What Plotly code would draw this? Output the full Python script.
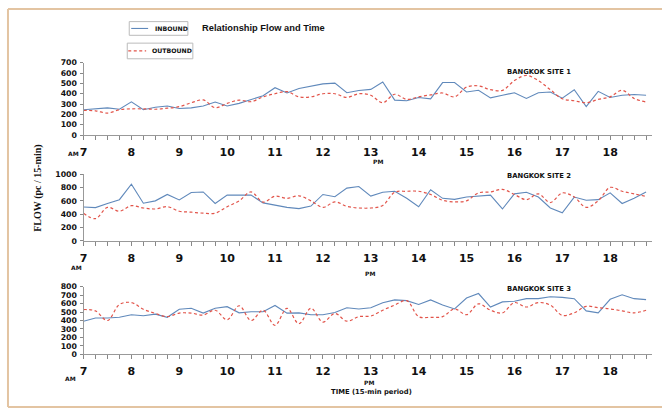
import plotly.graph_objects as go

W, H = 662, 417

# 15-min periods, 7:00 to 18:45
times = [7 + 0.25 * i for i in range(48)]
hour_ticks = list(range(7, 19))
hour_labels = [str(h) for h in hour_ticks]

site1_in = [245, 254, 263, 250, 322, 245, 270, 282, 257, 263, 282, 320,
            282, 307, 345, 380, 458, 407, 450, 470, 495, 503, 410, 432,
            442, 514, 338, 332, 364, 351, 508, 508, 417, 433, 360, 385,
            410, 354, 410, 417, 357, 439, 276, 423, 364, 385, 392, 385]
site1_out = [238, 235, 213, 245, 254, 254, 250, 260, 275, 313, 340, 265,
             307, 338, 323, 370, 400, 420, 370, 370, 400, 400, 364, 400,
             385, 313, 395, 345, 370, 389, 407, 370, 464, 476, 439, 433,
             527, 577, 527, 439, 351, 332, 313, 345, 370, 433, 354, 320]

site2_in = [507, 498, 560, 618, 850, 565, 600, 696, 614, 725, 734, 560,
            686, 686, 686, 570, 531, 502, 483, 522, 696, 662, 792, 816,
            671, 729, 744, 638, 512, 768, 638, 623, 657, 671, 686, 478,
            705, 729, 657, 493, 420, 657, 609, 618, 720, 560, 638, 734]
site2_out = [415, 333, 502, 444, 527, 493, 478, 512, 444, 430, 415, 415,
             512, 600, 734, 580, 671, 638, 676, 600, 502, 585, 517, 493,
             493, 531, 729, 744, 744, 696, 609, 585, 600, 720, 734, 773,
             696, 618, 705, 575, 720, 657, 502, 600, 802, 744, 705, 667]

site3_in = [392, 430, 430, 438, 469, 457, 476, 438, 533, 545, 488, 545,
            564, 491, 503, 503, 579, 488, 491, 469, 469, 495, 552, 537,
            552, 610, 644, 636, 590, 644, 583, 537, 667, 720, 560, 621,
            629, 659, 659, 682, 674, 659, 514, 491, 651, 705, 659, 648]
site3_out = [530, 514, 400, 590, 613, 533, 484, 446, 488, 488, 465, 522,
             408, 575, 400, 522, 343, 545, 362, 545, 381, 484, 392, 446,
             453, 522, 583, 636, 446, 438, 446, 537, 469, 598, 522, 491,
             613, 560, 613, 583, 461, 491, 568, 552, 537, 514, 491, 522]

sites = ["BANGKOK SITE 1", "BANGKOK SITE 2", "BANGKOK SITE 3"]
y_max = [700, 1000, 800]
y_step = [100, 200, 100]

IN_COLOR = "#6089bb"
OUT_COLOR = "#e2544a"

def px_x(p):
    return p / W

def px_y(p):
    return 1 - p / H

# pixel geometry of the three panels (top, bottom of plotting area)
panels = [(60, 134), (174, 242), (289, 358)]
x_left, x_right = 80, 652

fig = go.Figure()
series = [(site1_in, site1_out), (site2_in, site2_out), (site3_in, site3_out)]
for i, (sin, sout) in enumerate(series):
    ax = "" if i == 0 else str(i + 1)
    fig.add_trace(go.Scatter(x=times, y=sin, mode="lines", name="INBOUND",
                             line=dict(color=IN_COLOR, width=1.1),
                             xaxis="x" + ax, yaxis="y" + ax, showlegend=False))
    fig.add_trace(go.Scatter(x=times, y=sout, mode="lines", name="OUTBOUND",
                             line=dict(color=OUT_COLOR, width=1.2, dash="3px,2.5px",
                                       shape="spline", smoothing=1.0),
                             xaxis="x" + ax, yaxis="y" + ax, showlegend=False))

layout = dict(
    width=W, height=H,
    margin=dict(l=0, r=0, t=0, b=0),
    paper_bgcolor="white", plot_bgcolor="white",
    showlegend=False,
)

for i, (top, bot) in enumerate(panels):
    ax = "" if i == 0 else str(i + 1)
    layout["xaxis" + ax] = dict(
        domain=[px_x(x_left), px_x(x_right)],
        range=[7, 18.875],
        anchor="y" + ax,
        tickmode="array", tickvals=hour_ticks, ticktext=hour_labels,
        ticks="outside", ticklen=4, tickcolor="#888", tickwidth=1,
        minor=dict(dtick=0.25, tick0=7, ticks="outside", ticklen=4,
                   tickcolor="#888", tickwidth=1),
        showline=True, linecolor="#999", linewidth=1,
        showgrid=False, zeroline=False,
        tickfont=dict(family="DejaVu Sans", size=11, color="#111", weight="bold"),
        ticklabelstandoff=3,
        fixedrange=True,
    )
    layout["yaxis" + ax] = dict(
        domain=[px_y(bot), px_y(top)],
        range=[0, y_max[i]],
        anchor="x" + ax,
        tickmode="linear", tick0=0, dtick=y_step[i],
        ticks="outside", ticklen=3, tickcolor="#888",
        showline=True, linecolor="#999", linewidth=1,
        showgrid=False, zeroline=False,
        tickfont=dict(family="DejaVu Sans", size=7.8, color="#111", weight="bold"),
        ticklabelstandoff=1,
        fixedrange=True,
    )

fig.update_layout(**layout)

annotations = []
def txt(x, y, s, size, family="DejaVu Sans", bold=True, xanchor="center", angle=0, color="#111"):
    annotations.append(dict(
        x=px_x(x), y=px_y(y), xref="paper", yref="paper", text=s, showarrow=False,
        xanchor=xanchor, yanchor="middle", textangle=angle,
        font=dict(family=family, size=size, color=color, weight="bold" if bold else "normal"),
    ))

# title
txt(261, 25, "Relationship Flow and Time", 9.3, family="Liberation Sans")
# site labels
txt(538, 69, sites[0], 6.8)
txt(538, 176, sites[1], 6.8)
txt(538, 291, sites[2], 6.8)
# AM / PM markers
for (amx, amy, pmx, pmy) in [(70, 153, 376, 161), (73, 269, 368, 275), (67, 383, 367, 387)]:
    txt(amx, amy, "AM", 6)
    txt(pmx, pmy, "PM", 6)
# axis titles
txt(34, 188, "FLOW (pc / 15-min)", 10, family="Liberation Serif", angle=-90)
txt(370, 397, "TIME (15-min period)", 6.8)
# legend labels
txt(150, 25, "INBOUND", 6.2, xanchor="left")
txt(147, 48, "OUTBOUND", 6.2, xanchor="left")

FRAME = "#e3c4a2"
def pline(x0, y0, x1, y1, color, width, dash=None):
    d = dict(type="line", xref="paper", yref="paper",
             x0=px_x(x0), x1=px_x(x1), y0=px_y(y0), y1=px_y(y1),
             line=dict(color=color, width=width))
    if dash:
        d["line"]["dash"] = dash
    return d

shapes = [
    # outer frame (left, top, bottom; extends past right edge)
    pline(4, 5, 4, 412, FRAME, 2),
    pline(4, 5, 662, 5, FRAME, 2),
    pline(4, 412, 662, 412, FRAME, 2),
    # legend boxes
    dict(type="rect", xref="paper", yref="paper",
         x0=px_x(126), x1=px_x(185), y0=px_y(32), y1=px_y(18),
         line=dict(color="#bbbbbb", width=1)),
    dict(type="rect", xref="paper", yref="paper",
         x0=px_x(124), x1=px_x(190), y0=px_y(56), y1=px_y(40),
         line=dict(color="#bbbbbb", width=1)),
    # legend samples
    pline(128, 25, 145, 25, IN_COLOR, 1.1),
    pline(125, 48, 143, 48, OUT_COLOR, 1.2, "3px,2.5px"),
]

fig.update_layout(annotations=annotations, shapes=shapes)
fig.write_html("out.html", config={"displayModeBar": False},
               post_script="document.body.style.margin='0px';document.body.style.overflow='hidden';")
